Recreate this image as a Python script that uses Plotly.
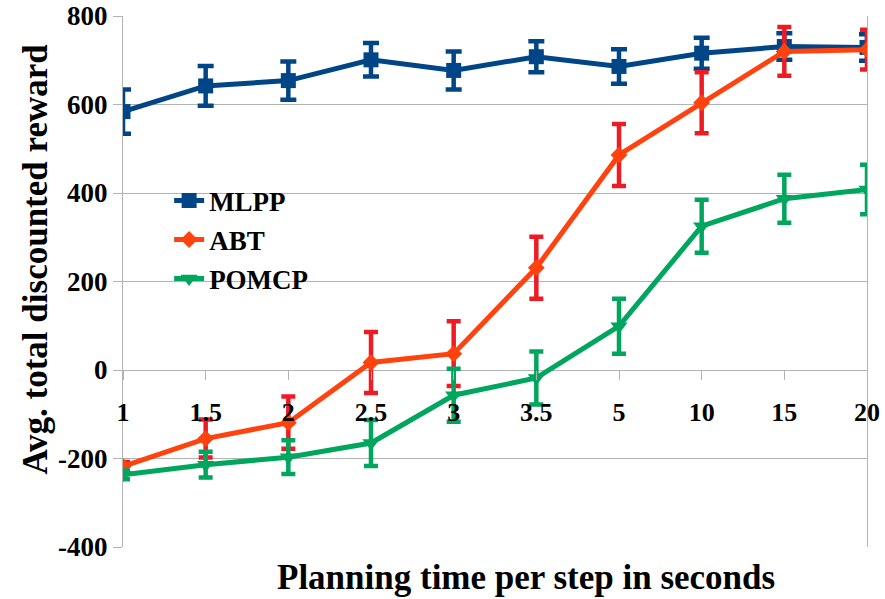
import plotly.graph_objects as go

# Planning time per step (seconds), shown as evenly spaced categories
planning_time = ["1", "1.5", "2", "2.5", "3", "3.5", "5", "10", "15", "20"]

mlpp_reward = [584, 642, 654, 701, 677, 708, 686, 716, 731, 729]
mlpp_err = [50, 45, 43, 38, 43, 35, 39, 35, 30, 30]

abt_reward = [-218, -155, -119, 17, 37, 231, 486, 604, 720, 724]
abt_err = [10, 43, 59, 69, 73, 70, 70, 69, 55, 45]

pomcp_reward = [-237, -214, -197, -165, -57, -18, 99, 325, 387, 408]
pomcp_err = [10, 29, 38, 52, 60, 60, 62, 60, 54, 56]

y_ticks = [-400, -200, 0, 200, 400, 600, 800]
y_tick_text = ["-400", "-200", "0", "200", "400", "600", "800"]

SERIF = "Liberation Serif, Times New Roman, Times, serif"
GRID = "#b3b3b3"

series = [
    ("MLPP", mlpp_reward, mlpp_err, "#004586", "#004586", "square", 15, 8),
    ("ABT", abt_reward, abt_err, "#ff420e", "#ed1c24", "diamond", 13, 7),
    ("POMCP", pomcp_reward, pomcp_err, "#00a65d", "#00a65d", "triangle-down", 15, 7),
]

fig = go.Figure()
for name, vals, errs, line_col, err_col, symbol, msize, capw in series:
    fig.add_trace(go.Scatter(
        x=planning_time,
        y=vals,
        name=name,
        legendgroup=name,
        mode="lines+markers",
        line=dict(color=line_col, width=5),
        marker=dict(symbol=symbol, size=msize, color=line_col),
        error_y=dict(type="data", array=errs, visible=True,
                     color=err_col, thickness=4.5, width=capw),
    ))

fig.update_layout(
    width=885,
    height=599,
    margin=dict(l=123, r=18, t=16, b=52),
    plot_bgcolor="white",
    paper_bgcolor="white",
    font=dict(family=SERIF, color="black"),
    showlegend=True,
    legend=dict(
        x=0.062, y=0.698, xanchor="left", yanchor="top",
        font=dict(family=SERIF, size=27, weight="bold"),
        bgcolor="rgba(0,0,0,0)",
        tracegroupgap=1,
        itemwidth=30,
    ),
    xaxis=dict(
        type="category",
        categoryorder="array",
        categoryarray=planning_time,
        range=[0, len(planning_time) - 1],
        anchor="free",
        position=1 / 3,
        automargin=False,
        showgrid=False,
        showline=False,
        ticks="outside",
        ticklen=9,
        tickcolor=GRID,
        tickwidth=1,
        ticklabelstandoff=10,
        tickfont=dict(family=SERIF, size=26, weight="bold"),
        zeroline=False,
    ),
    yaxis=dict(
        range=[-400, 800],
        tickvals=y_ticks,
        ticktext=y_tick_text,
        automargin=False,
        showgrid=True,
        gridcolor=GRID,
        gridwidth=1,
        showline=True,
        linecolor=GRID,
        linewidth=1,
        mirror=True,
        ticks="outside",
        ticklen=9,
        tickcolor=GRID,
        zeroline=False,
        tickfont=dict(family=SERIF, size=27, weight="bold"),
    ),
    annotations=[
        dict(text="Planning time per step in seconds", xref="paper", yref="paper",
             x=0.542, y=-0.058, xanchor="center", yanchor="middle", showarrow=False,
             font=dict(family=SERIF, size=35, weight="bold")),
        dict(text="Avg. total discounted reward", xref="paper", yref="paper",
             x=-0.117, y=0.543, xanchor="center", yanchor="middle", showarrow=False,
             textangle=-90,
             font=dict(family=SERIF, size=35, weight="bold")),
    ],
)

fig.write_html("out.html")
